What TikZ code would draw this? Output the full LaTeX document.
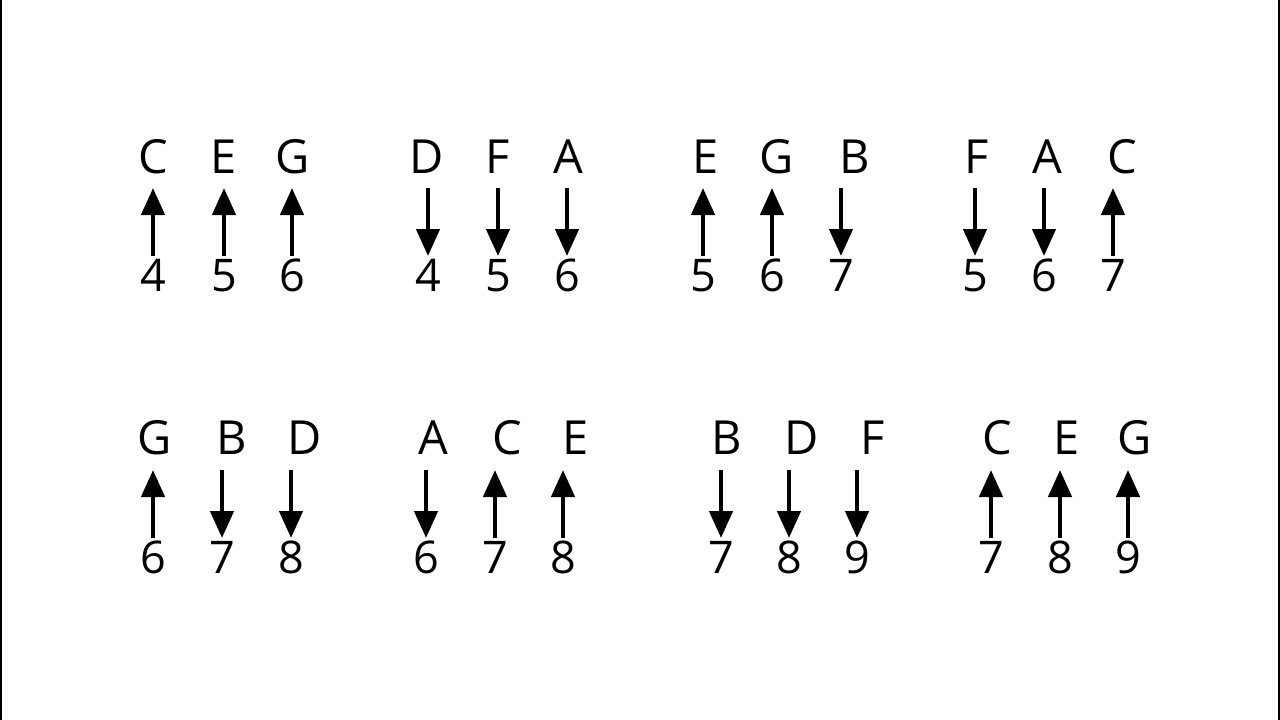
\documentclass[tikz,border=0pt]{standalone}
\usepackage{fontspec}
\setmainfont{Open Sans}
\usetikzlibrary{arrows.meta}
\begin{document}
\begin{tikzpicture}[x=1pt,y=-1pt,
  lab/.style={anchor=south,inner sep=0pt,text height=34pt,text depth=0pt,font=\fontsize{47}{47}\selectfont},
  num/.style={anchor=south,inner sep=0pt,text height=32pt,text depth=0pt,font=\fontsize{45}{45}\selectfont},
  arr/.style={line width=4.5pt,-{Triangle[width=23pt,length=27pt]}}]
\useasboundingbox (0,0) rectangle (1280,720);
\fill[white] (0,0) rectangle (1280,720);
\draw[line width=2pt] (1,0) -- (1,720);
\draw[line width=2pt] (1279,0) -- (1279,720);
% row 1: id / letter x / letter / number x / number / direction
\foreach \i/\lx/\l/\nx/\n/\d in {
  a/153/C/153/4/u, b/224/E/224/5/u, c/293/G/292/6/u,
  d/427/D/428/4/d, e/498/F/498/5/d, f/568/A/567/6/d,
  g/706/E/703/5/u, h/777/G/772/6/u, i/855/B/841/7/d,
  j/977/F/975/5/d, k/1047/A/1044/6/d, l/1122/C/1113/7/u}{
  \node[lab] (L1\i) at (\lx,174) {\l};
  \node[num] (N1\i) at (\nx,292) {\n};
  \coordinate (T1\i) at (\nx,188);
  \coordinate (B1\i) at (\nx,256);
  \if\d u
    \draw[arr] (B1\i) -- (T1\i);
  \else
    \draw[arr] (T1\i) -- (B1\i);
  \fi
}
% row 2
\foreach \i/\lx/\l/\nx/\n/\d in {
  a/155/G/153/6/u, b/232/B/222/7/d, c/305/D/291/8/d,
  d/433/A/426/6/d, e/507/C/495/7/u, f/576/E/563/8/u,
  g/727/B/721/7/d, h/802/D/789/8/d, i/873/F/857/9/d,
  j/997/C/991/7/u, k/1067/E/1060/8/u, l/1135/G/1128/9/u}{
  \node[lab] (L2\i) at (\lx,455) {\l};
  \node[num] (N2\i) at (\nx,574) {\n};
  \coordinate (T2\i) at (\nx,470);
  \coordinate (B2\i) at (\nx,538);
  \if\d u
    \draw[arr] (B2\i) -- (T2\i);
  \else
    \draw[arr] (T2\i) -- (B2\i);
  \fi
}
\end{tikzpicture}
\end{document}
